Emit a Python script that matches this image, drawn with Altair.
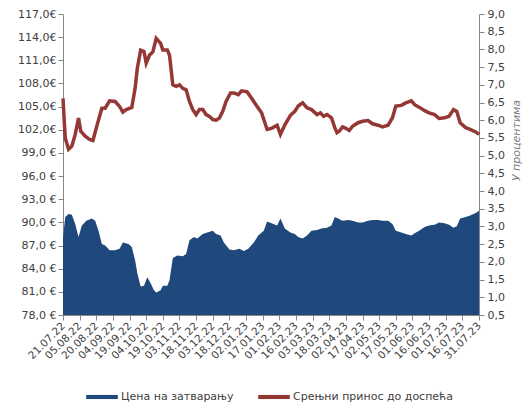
import altair as alt
import pandas as pd

# ---- data ----
price_dates = ["2022-07-21", "2022-07-23", "2022-07-26", "2022-07-29", "2022-08-01", "2022-08-04",
               "2022-08-07", "2022-08-11", "2022-08-16", "2022-08-19", "2022-08-22", "2022-08-25",
               "2022-08-28", "2022-09-01", "2022-09-06", "2022-09-10", "2022-09-13", "2022-09-18",
               "2022-09-21", "2022-09-24", "2022-09-26", "2022-09-29", "2022-10-02", "2022-10-05",
               "2022-10-08", "2022-10-11", "2022-10-13", "2022-10-17", "2022-10-19", "2022-10-23",
               "2022-10-25", "2022-10-28", "2022-11-01", "2022-11-06", "2022-11-09", "2022-11-12",
               "2022-11-16", "2022-11-19", "2022-11-24", "2022-11-28", "2022-12-03", "2022-12-06",
               "2022-12-10", "2022-12-13", "2022-12-18", "2022-12-22", "2022-12-27", "2022-12-31",
               "2023-01-04", "2023-01-09", "2023-01-13", "2023-01-18", "2023-01-21", "2023-01-25",
               "2023-01-30", "2023-02-02", "2023-02-06", "2023-02-11", "2023-02-15", "2023-02-18",
               "2023-02-22", "2023-02-26", "2023-03-02", "2023-03-07", "2023-03-11", "2023-03-16",
               "2023-03-20", "2023-03-23", "2023-03-26", "2023-03-30", "2023-04-04", "2023-04-08",
               "2023-04-13", "2023-04-17", "2023-04-22", "2023-04-26", "2023-05-01", "2023-05-05",
               "2023-05-10", "2023-05-14", "2023-05-17", "2023-05-22", "2023-05-26", "2023-05-31",
               "2023-06-03", "2023-06-07", "2023-06-12", "2023-06-16", "2023-06-21", "2023-06-25",
               "2023-06-30", "2023-07-04", "2023-07-08", "2023-07-11", "2023-07-14", "2023-07-19",
               "2023-07-23", "2023-07-28", "2023-07-31"]
price_values = [88.0, 90.7, 91.1, 91.0, 89.8, 88.1,
                89.6, 90.2, 90.5, 90.2, 88.9, 87.2,
                87.0, 86.4, 86.4, 86.6, 87.4, 87.2,
                86.8, 85.1, 83.4, 81.7, 81.8, 82.9,
                82.1, 81.2, 80.9, 81.2, 81.8, 81.8,
                82.5, 85.4, 85.7, 85.6, 85.9, 87.7,
                88.1, 87.9, 88.5, 88.7, 88.9, 88.5,
                88.3, 87.4, 86.5, 86.4, 86.6, 86.3,
                86.6, 87.4, 88.3, 88.9, 90.1, 89.9,
                89.6, 90.5, 89.2, 88.7, 88.5, 88.1,
                87.9, 88.3, 88.9, 89.0, 89.2, 89.3,
                89.6, 90.7, 90.5, 90.2, 90.3, 90.2,
                90.0, 90.0, 90.2, 90.3, 90.3, 90.2,
                90.2, 89.8, 88.9, 88.7, 88.5, 88.3,
                88.6, 88.9, 89.4, 89.6, 89.7, 90.0,
                89.9, 89.7, 89.3, 89.5, 90.5, 90.7,
                90.9, 91.2, 91.5]

yield_dates = ["2022-07-21", "2022-07-23", "2022-07-26", "2022-07-29", "2022-08-01", "2022-08-04",
               "2022-08-06", "2022-08-10", "2022-08-14", "2022-08-17", "2022-08-20", "2022-08-25",
               "2022-08-28", "2022-09-01", "2022-09-06", "2022-09-10", "2022-09-13", "2022-09-16",
               "2022-09-21", "2022-09-24", "2022-09-26", "2022-09-29", "2022-10-02", "2022-10-04",
               "2022-10-07", "2022-10-10", "2022-10-13", "2022-10-17", "2022-10-19", "2022-10-23",
               "2022-10-25", "2022-10-28", "2022-10-31", "2022-11-03", "2022-11-06", "2022-11-09",
               "2022-11-12", "2022-11-15", "2022-11-18", "2022-11-21", "2022-11-24", "2022-11-27",
               "2022-11-30", "2022-12-03", "2022-12-06", "2022-12-09", "2022-12-12", "2022-12-15",
               "2022-12-19", "2022-12-22", "2022-12-26", "2022-12-29", "2023-01-03", "2023-01-07",
               "2023-01-12", "2023-01-16", "2023-01-21", "2023-01-25", "2023-01-30", "2023-02-02",
               "2023-02-06", "2023-02-11", "2023-02-15", "2023-02-18", "2023-02-22", "2023-02-26",
               "2023-03-02", "2023-03-07", "2023-03-10", "2023-03-13", "2023-03-16", "2023-03-20",
               "2023-03-23", "2023-03-25", "2023-03-27", "2023-03-30", "2023-04-02", "2023-04-05",
               "2023-04-08", "2023-04-13", "2023-04-17", "2023-04-22", "2023-04-26", "2023-05-01",
               "2023-05-05", "2023-05-10", "2023-05-14", "2023-05-17", "2023-05-22", "2023-05-26",
               "2023-05-31", "2023-06-03", "2023-06-07", "2023-06-12", "2023-06-16", "2023-06-21",
               "2023-06-25", "2023-06-30", "2023-07-04", "2023-07-08", "2023-07-11", "2023-07-14",
               "2023-07-19", "2023-07-23", "2023-07-28", "2023-07-31"]
yield_values = [6.62, 5.50, 5.18, 5.27, 5.60, 6.06,
                5.69, 5.55, 5.46, 5.43, 5.78, 6.34,
                6.34, 6.55, 6.53, 6.39, 6.23, 6.30,
                6.36, 6.90, 7.47, 7.98, 7.94, 7.61,
                7.84, 7.93, 8.31, 8.17, 7.98, 7.98,
                7.84, 7.00, 6.96, 7.00, 6.90, 6.86,
                6.53, 6.30, 6.16, 6.30, 6.30, 6.16,
                6.11, 6.02, 6.00, 6.06, 6.25, 6.53,
                6.77, 6.77, 6.72, 6.83, 6.80, 6.62,
                6.39, 6.21, 5.74, 5.77, 5.86, 5.60,
                5.87, 6.14, 6.25, 6.40, 6.49, 6.35,
                6.30, 6.16, 6.21, 6.11, 6.16, 6.07,
                5.79, 5.65, 5.69, 5.81, 5.77, 5.71,
                5.83, 5.93, 5.97, 5.99, 5.90, 5.86,
                5.81, 5.86, 6.07, 6.40, 6.42, 6.49,
                6.55, 6.44, 6.37, 6.27, 6.21, 6.16,
                6.05, 6.07, 6.11, 6.30, 6.25, 5.93,
                5.79, 5.74, 5.67, 5.60]

tick_labels = ["21.07.22", "05.08.22", "20.08.22", "04.09.22", "19.09.22", "04.10.22", "19.10.22",
               "03.11.22", "18.11.22", "03.12.22", "18.12.22", "02.01.23", "17.01.23", "01.02.23",
               "16.02.23", "03.03.23", "18.03.23", "02.04.23", "17.04.23", "02.05.23", "17.05.23",
               "01.06.23", "16.06.23", "01.07.23", "16.07.23", "31.07.23"]

series_names = ["Цена на затварању", "Срењни принос до доспећа"]
series_colors = ["#1f497d", "#953735"]
right_title = "У процентима"

price_ticks = [78.0, 81.0, 84.0, 87.0, 90.0, 93.0, 96.0, 99.0, 102.0, 105.0, 108.0, 111.0, 114.0, 117.0]
yield_ticks = [0.5, 1.0, 1.5, 2.0, 2.5, 3.0, 3.5, 4.0, 4.5, 5.0, 5.5, 6.0, 6.5, 7.0, 7.5, 8.0, 8.5, 9.0]


def to_dt(lbl):
    d, m, y = lbl.split(".")
    return alt.DateTime(year=2000 + int(y), month=int(m), date=int(d), utc=True)


tick_values = [to_dt(t) for t in tick_labels]

price_df = pd.DataFrame({"date": price_dates, "value": price_values, "series": series_names[0]})
yield_df = pd.DataFrame({"date": yield_dates, "value": yield_values, "series": series_names[1]})

FONT = "DejaVu Sans"
AX_COLOR = "#868686"
LBL_COLOR = "#404040"

x_enc = alt.X(
    "date:T",
    scale=alt.Scale(type="utc", domain=[tick_values[0], tick_values[-1]], nice=False),
    axis=alt.Axis(
        values=tick_values, labelExpr="utcFormat(datum.value, '%d.%m.%y')", labelAngle=315,
        labelAlign="right", labelBaseline="middle", title=None, grid=False,
        tickSize=5, labelPadding=4, labelOverlap=False, labelFontSize=10.5,
    ),
)

color_enc = alt.Color(
    "series:N",
    scale=alt.Scale(domain=series_names, range=series_colors),
    legend=alt.Legend(
        title=None, orient="none", direction="horizontal", legendX=23, legendY=367,
        symbolSize=1000, columnPadding=24, labelOffset=3, labelFontSize=11,
        labelColor=LBL_COLOR, labelFont=FONT, symbolStrokeWidth=0, labelLimit=400,
        symbolType="M-1,-0.13H1V0.13H-1Z", symbolOpacity=1,
    ),
)

area = alt.Chart(price_df).mark_area(opacity=1).encode(
    x=x_enc,
    y=alt.Y(
        "value:Q",
        scale=alt.Scale(domain=[78, 117], zero=False, nice=False),
        axis=alt.Axis(
            values=price_ticks, title=None, grid=False, tickSize=5, labelPadding=2,
            labelExpr="replace(format(datum.value, '.1f'), '.', ',') + (datum.value >= 100 ? '€' : ' €')",
        ),
    ),
    y2=alt.datum(78),
    color=color_enc,
)

line = alt.Chart(yield_df).mark_line(strokeWidth=3.5, interpolate="linear").encode(
    x=x_enc,
    y=alt.Y(
        "value:Q",
        scale=alt.Scale(domain=[0.5, 9.0], zero=False, nice=False),
        axis=alt.Axis(
            orient="right", values=yield_ticks, title=right_title, grid=False, tickSize=5,
            labelPadding=3,
            labelExpr="replace(format(datum.value, '.1f'), '.', ',')",
            titleAngle=270, titleFontStyle="italic", titleFontWeight="normal",
            titleColor="#808080", titleFontSize=11, titleX=37, titleY=126,
            titleAlign="center", titleBaseline="middle",
        ),
    ),
    color=color_enc,
)

chart = (
    alt.layer(area, line)
    .resolve_scale(y="independent")
    .properties(
        width=416, height=301,
        autosize=alt.AutoSizeParams(type="none"),
        padding={"left": 55, "top": 6, "right": 44, "bottom": 88},
    )
    .configure_view(stroke=None)
    .configure_axis(
        domainColor=AX_COLOR, tickColor=AX_COLOR, labelColor=LBL_COLOR,
        labelFont=FONT, labelFontSize=11, titleFont=FONT,
    )
)

chart.save("out.html", embed_options={"renderer": "svg", "actions": False})
